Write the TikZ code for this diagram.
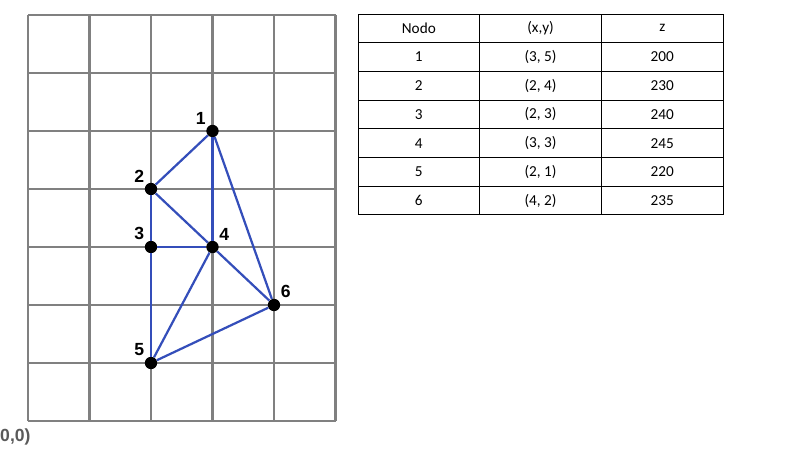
\documentclass[tikz,border=0pt]{standalone}
\usepackage{fontspec}
\setmainfont{Carlito}
\newfontfamily\labelfont{Liberation Sans}
\definecolor{aristablue}{RGB}{52,78,186}
\definecolor{gridgray}{RGB}{128,128,128}
\tikzset{
    dot/.style={circle, fill=black, inner sep=0pt, minimum size=0.37cm},
    lbl/.style={font=\labelfont\bfseries\fontsize{15}{17}\selectfont, inner sep=0pt},
    arista/.style={aristablue, line width=1.9pt},
    celda/.style={draw, line width=0.7pt, minimum width=3.651cm, minimum height=0.861cm,
        inner sep=0pt, outer sep=0pt, font=\fontsize{13}{15}\selectfont},
}
\begin{document}
\begin{tikzpicture}[x=0.03cm, y=0.03cm, every label/.style={lbl}, label distance=2.5pt]
        % borde de la imagen (786 x 463)
        \useasboundingbox (0,0) rectangle (786,463);
        
        % malla
        \begin{scope}[shift={(28,42)}, x=1.845cm, y=1.74cm]
            \draw[gridgray, line width=2.3pt] (0,0) grid[xstep=1.845cm, ystep=1.74cm] (5,7);
            
            % nodos (x,y)
            \node[dot, label=above left:1]  (n1) at (3,5) {};
            \node[dot, label=above left:2]  (n2) at (2,4) {};
            \node[dot, label=above left:3]  (n3) at (2,3) {};
            \node[dot, label=above right:4] (n4) at (3,3) {};
            \node[dot, label=above left:5]  (n5) at (2,1) {};
            \node[dot, label=above right:6] (n6) at (4,2) {};
            
            % aristas de la triangulacion
            \foreach \a/\b in {1/2, 1/4, 1/6, 2/3, 2/4, 3/4, 3/5, 4/5, 4/6, 5/6}
                \draw[arista] (n\a) -- (n\b);
        \end{scope}
        
        \node[gridgray!70!black, font=\labelfont\bfseries\fontsize{15}{17}\selectfont,
            anchor=west, inner sep=0pt] (origen) at (0,26) {0,0)};
        
        % tabla de nodos
        \foreach \r/\a/\b/\c in {0/Nodo/{(x,y)}/z, 1/1/{(3, 5)}/200, 2/2/{(2, 4)}/230,
                3/3/{(2, 3)}/240, 4/4/{(3, 3)}/245, 5/5/{(2, 1)}/220, 6/6/{(4, 2)}/235} {
            \node[celda] (t\r-1) at (418.85, 434.65-28.7*\r) {\a};
            \node[celda] (t\r-2) at (540.55, 434.65-28.7*\r) {\b};
            \node[celda] (t\r-3) at (662.25, 434.65-28.7*\r) {\c};
        }
    \end{tikzpicture}
\end{document}
